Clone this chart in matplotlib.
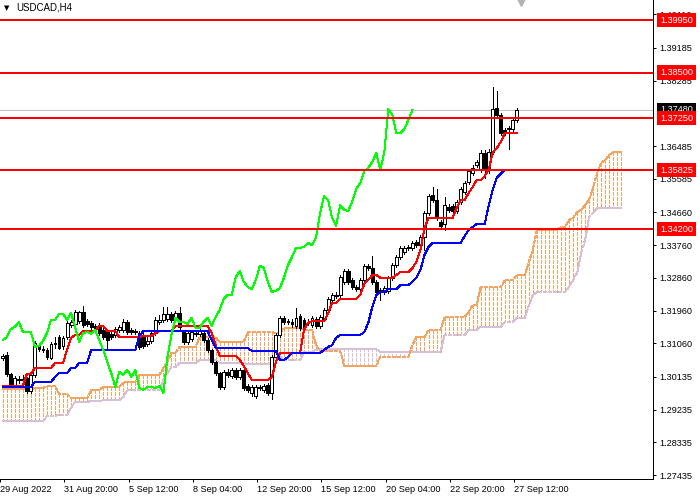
import numpy as np
import matplotlib
matplotlib.use('Agg')
import matplotlib.pyplot as plt

plt.rcParams['font.family'] = ['Liberation Sans', 'DejaVu Sans']
plt.rcParams['lines.antialiased'] = False
plt.rcParams['patch.antialiased'] = False

# USDCAD H4, values
opens = [
    1.3066, 1.3074, 1.3022, 1.2991, 1.3008, 1.3005, 1.3011, 1.2975, 1.3019, 1.3099,
    1.3090, 1.3088, 1.3066, 1.3104, 1.3123, 1.3099, 1.3123, 1.3156, 1.3159, 1.3167,
    1.3192, 1.3167, 1.3162, 1.3154, 1.3156, 1.3143, 1.3137, 1.3132, 1.3129, 1.3143,
    1.3143, 1.3165, 1.3143, 1.3140, 1.3134, 1.3126, 1.3104, 1.3112, 1.3134, 1.3165,
    1.3170, 1.3173, 1.3187, 1.3170, 1.3189, 1.3137, 1.3110, 1.3118, 1.3134, 1.3132,
    1.3134, 1.3115, 1.3088, 1.3055, 1.3024, 1.2986, 1.3027, 1.3016, 1.3033, 1.3013,
    1.3033, 1.2989, 1.2969, 1.2961, 1.2986, 1.2978, 1.2991, 1.2969, 1.3068, 1.3129,
    1.3176, 1.3167, 1.3165, 1.3154, 1.3181, 1.3170, 1.3162, 1.3156, 1.3173, 1.3154,
    1.3173, 1.3198, 1.3225, 1.3236, 1.3239, 1.3275, 1.3305, 1.3280, 1.3261, 1.3255,
    1.3280, 1.3319, 1.3313, 1.3275, 1.3253, 1.3247, 1.3250, 1.3286, 1.3321, 1.3343,
    1.3357, 1.3368, 1.3368, 1.3385, 1.3376, 1.3398, 1.3464, 1.3514, 1.3500, 1.3440,
    1.3434, 1.3481, 1.3484, 1.3470, 1.3495, 1.3522, 1.3550, 1.3574, 1.3596, 1.3583,
    1.3629, 1.3583, 1.3632, 1.3753, 1.3734, 1.3693, 1.3698, 1.3695, 1.3720,
]
highs = [
    1.3077, 1.3082, 1.3024, 1.3016, 1.3016, 1.3019, 1.3013, 1.3022, 1.3112, 1.3104,
    1.3099, 1.3093, 1.3110, 1.3123, 1.3129, 1.3126, 1.3167, 1.3170, 1.3198, 1.3195,
    1.3209, 1.3173, 1.3167, 1.3159, 1.3162, 1.3148, 1.3143, 1.3137, 1.3151, 1.3156,
    1.3173, 1.3170, 1.3148, 1.3145, 1.3140, 1.3134, 1.3126, 1.3140, 1.3178, 1.3184,
    1.3206, 1.3206, 1.3192, 1.3195, 1.3206, 1.3143, 1.3140, 1.3143, 1.3140, 1.3154,
    1.3140, 1.3121, 1.3090, 1.3058, 1.3027, 1.3033, 1.3035, 1.3038, 1.3038, 1.3038,
    1.3038, 1.2994, 1.2991, 1.2991, 1.2991, 1.2994, 1.2997, 1.3074, 1.3134, 1.3181,
    1.3181, 1.3173, 1.3173, 1.3203, 1.3187, 1.3176, 1.3173, 1.3181, 1.3178, 1.3184,
    1.3203, 1.3233, 1.3244, 1.3247, 1.3294, 1.3310, 1.3310, 1.3286, 1.3266, 1.3286,
    1.3324, 1.3324, 1.3346, 1.3280, 1.3258, 1.3264, 1.3291, 1.3327, 1.3349, 1.3374,
    1.3374, 1.3376, 1.3387, 1.3390, 1.3404, 1.3470, 1.3517, 1.3536, 1.3530, 1.3445,
    1.3508, 1.3489, 1.3489, 1.3500, 1.3536, 1.3552, 1.3585, 1.3596, 1.3610, 1.3638,
    1.3638, 1.3640, 1.3811, 1.3800, 1.3739, 1.3698, 1.3704, 1.3726, 1.3753,
]
lows = [
    1.3060, 1.3016, 1.2986, 1.2986, 1.2997, 1.2997, 1.2969, 1.2969, 1.3013, 1.3085,
    1.3082, 1.3063, 1.3063, 1.3093, 1.3090, 1.3090, 1.3118, 1.3151, 1.3154, 1.3162,
    1.3151, 1.3154, 1.3145, 1.3140, 1.3129, 1.3118, 1.3088, 1.3118, 1.3123, 1.3137,
    1.3137, 1.3132, 1.3132, 1.3132, 1.3090, 1.3093, 1.3099, 1.3107, 1.3129, 1.3159,
    1.3165, 1.3167, 1.3165, 1.3165, 1.3145, 1.3104, 1.3104, 1.3112, 1.3126, 1.3126,
    1.3110, 1.3082, 1.3049, 1.3019, 1.2980, 1.2980, 1.3013, 1.3011, 1.3008, 1.3008,
    1.2978, 1.2972, 1.2961, 1.2956, 1.2978, 1.2972, 1.2964, 1.2953, 1.3063, 1.3123,
    1.3159, 1.3159, 1.3151, 1.3148, 1.3143, 1.3143, 1.3156, 1.3151, 1.3148, 1.3148,
    1.3167, 1.3192, 1.3220, 1.3231, 1.3233, 1.3269, 1.3269, 1.3255, 1.3250, 1.3250,
    1.3275, 1.3308, 1.3269, 1.3242, 1.3225, 1.3242, 1.3244, 1.3280, 1.3316, 1.3338,
    1.3352, 1.3363, 1.3363, 1.3371, 1.3371, 1.3363, 1.3459, 1.3495, 1.3445, 1.3423,
    1.3418, 1.3467, 1.3464, 1.3464, 1.3489, 1.3517, 1.3544, 1.3569, 1.3591, 1.3577,
    1.3561, 1.3574, 1.3627, 1.3728, 1.3679, 1.3679, 1.3640, 1.3690, 1.3715,
]
closes = [
    1.3071, 1.3022, 1.2991, 1.3011, 1.3005, 1.3008, 1.2975, 1.3019, 1.3107, 1.3090,
    1.3088, 1.3068, 1.3104, 1.3107, 1.3093, 1.3121, 1.3162, 1.3165, 1.3192, 1.3192,
    1.3156, 1.3159, 1.3151, 1.3145, 1.3134, 1.3123, 1.3115, 1.3123, 1.3145, 1.3151,
    1.3165, 1.3137, 1.3137, 1.3137, 1.3096, 1.3099, 1.3112, 1.3134, 1.3170, 1.3170,
    1.3187, 1.3187, 1.3170, 1.3189, 1.3151, 1.3110, 1.3134, 1.3137, 1.3132, 1.3143,
    1.3115, 1.3088, 1.3055, 1.3024, 1.2986, 1.3027, 1.3019, 1.3033, 1.3013, 1.3033,
    1.2983, 1.2978, 1.2986, 1.2986, 1.2983, 1.2989, 1.2969, 1.3068, 1.3129, 1.3176,
    1.3165, 1.3165, 1.3159, 1.3176, 1.3148, 1.3148, 1.3165, 1.3176, 1.3154, 1.3178,
    1.3198, 1.3228, 1.3239, 1.3239, 1.3288, 1.3305, 1.3275, 1.3261, 1.3255, 1.3280,
    1.3319, 1.3313, 1.3275, 1.3247, 1.3250, 1.3258, 1.3286, 1.3321, 1.3343, 1.3368,
    1.3368, 1.3371, 1.3382, 1.3376, 1.3398, 1.3464, 1.3511, 1.3500, 1.3451, 1.3429,
    1.3486, 1.3473, 1.3470, 1.3495, 1.3530, 1.3547, 1.3580, 1.3588, 1.3605, 1.3629,
    1.3583, 1.3632, 1.3750, 1.3734, 1.3684, 1.3684, 1.3695, 1.3720, 1.3748,
]

# Ichimoku lines as drawn (tenkan red, kijun blue)
tenkan = [
    1.2989, 1.2989, 1.2989, 1.2989, 1.2989, 1.2989, 1.3022, 1.3022, 1.3038, 1.3038,
    1.3038, 1.3038, 1.3038, 1.3052, 1.3052, 1.3052, 1.3088, 1.3121, 1.3129, 1.3129,
    1.3140, 1.3140, 1.3140, 1.3140, 1.3154, 1.3154, 1.3140, 1.3140, 1.3140, 1.3123,
    1.3123, 1.3123, 1.3123, 1.3123, 1.3123, 1.3126, 1.3126, 1.3126, 1.3134, 1.3140,
    1.3140, 1.3140, 1.3140, 1.3154, 1.3154, 1.3154, 1.3154, 1.3154, 1.3154, 1.3154,
    1.3154, 1.3154, 1.3134, 1.3101, 1.3071, 1.3071, 1.3071, 1.3071, 1.3071, 1.3060,
    1.3044, 1.3024, 1.3005, 1.3005, 1.3005, 1.3005, 1.3005, 1.3013, 1.3055, 1.3079,
    1.3079, 1.3079, 1.3079, 1.3079, 1.3079, 1.3143, 1.3162, 1.3167, 1.3167, 1.3167,
    1.3167, 1.3189, 1.3217, 1.3217, 1.3228, 1.3228, 1.3228, 1.3228, 1.3228, 1.3239,
    1.3269, 1.3280, 1.3294, 1.3294, 1.3286, 1.3286, 1.3286, 1.3286, 1.3294, 1.3302,
    1.3302, 1.3302, 1.3313, 1.3330, 1.3363, 1.3423, 1.3451, 1.3451, 1.3451, 1.3451,
    1.3451, 1.3451, 1.3451, 1.3478, 1.3500, 1.3500, 1.3519, 1.3536, 1.3555, 1.3555,
    1.3566, 1.3583, 1.3632, 1.3643, 1.3660, 1.3684, 1.3684, 1.3684, 1.3684,
]
kijun = [
    1.2986, 1.2986, 1.2986, 1.2986, 1.2986, 1.2986, 1.2986, 1.2986, 1.3000, 1.3000,
    1.3000, 1.3000, 1.3000, 1.3013, 1.3024, 1.3024, 1.3024, 1.3038, 1.3038, 1.3052,
    1.3052, 1.3052, 1.3088, 1.3088, 1.3088, 1.3088, 1.3088, 1.3088, 1.3088, 1.3088,
    1.3088, 1.3088, 1.3088, 1.3088, 1.3126, 1.3140, 1.3140, 1.3140, 1.3140, 1.3140,
    1.3140, 1.3140, 1.3140, 1.3140, 1.3140, 1.3140, 1.3140, 1.3140, 1.3140, 1.3140,
    1.3140, 1.3140, 1.3115, 1.3093, 1.3093, 1.3093, 1.3093, 1.3093, 1.3093, 1.3093,
    1.3093, 1.3093, 1.3085, 1.3085, 1.3085, 1.3085, 1.3085, 1.3085, 1.3085, 1.3060,
    1.3060, 1.3068, 1.3079, 1.3079, 1.3079, 1.3079, 1.3079, 1.3079, 1.3079, 1.3079,
    1.3088, 1.3096, 1.3101, 1.3121, 1.3129, 1.3129, 1.3129, 1.3129, 1.3129, 1.3129,
    1.3137, 1.3162, 1.3206, 1.3239, 1.3247, 1.3247, 1.3255, 1.3255, 1.3255, 1.3266,
    1.3266, 1.3266, 1.3275, 1.3286, 1.3308, 1.3349, 1.3371, 1.3382, 1.3382, 1.3382,
    1.3382, 1.3382, 1.3382, 1.3382, 1.3382, 1.3401, 1.3418, 1.3426, 1.3434, 1.3434,
    1.3434, 1.3486, 1.3528, 1.3561, 1.3572, 1.3583, 1.3583, 1.3583, 1.3583,
]
# senkou spans, already shifted 26 bars ahead
span_a = [
    1.2980, 1.2980, 1.2980, 1.2980, 1.2980, 1.2980, 1.2980, 1.2980, 1.2983, 1.2983,
    1.2983, 1.2989, 1.2989, 1.2989, 1.2967, 1.2967, 1.2967, 1.2956, 1.2956, 1.2956,
    1.2956, 1.2956, 1.2978, 1.2978, 1.2978, 1.2986, 1.2986, 1.2986, 1.2986, 1.2986,
    1.2997, 1.3000, 1.3000, 1.3000, 1.3019, 1.3019, 1.3019, 1.3019, 1.3019, 1.3019,
    1.3038, 1.3055, 1.3079, 1.3079, 1.3096, 1.3096, 1.3096, 1.3096, 1.3096, 1.3123,
    1.3123, 1.3123, 1.3123, 1.3123, 1.3110, 1.3110, 1.3110, 1.3110, 1.3110, 1.3110,
    1.3110, 1.3137, 1.3137, 1.3137, 1.3137, 1.3137, 1.3137, 1.3137, 1.3134, 1.3134,
    1.3148, 1.3148, 1.3148, 1.3148, 1.3148, 1.3143, 1.3143, 1.3143, 1.3101, 1.3085,
    1.3085, 1.3085, 1.3085, 1.3085, 1.3085, 1.3044, 1.3044, 1.3044, 1.3044, 1.3044,
    1.3044, 1.3044, 1.3044, 1.3044, 1.3068, 1.3068, 1.3068, 1.3068, 1.3068, 1.3068,
    1.3068, 1.3068, 1.3101, 1.3123, 1.3123, 1.3123, 1.3143, 1.3143, 1.3143, 1.3143,
    1.3178, 1.3178, 1.3178, 1.3178, 1.3178, 1.3178, 1.3192, 1.3211, 1.3211, 1.3261,
    1.3261, 1.3261, 1.3261, 1.3261, 1.3261, 1.3280, 1.3280, 1.3280, 1.3294, 1.3294,
    1.3294, 1.3330, 1.3363, 1.3418, 1.3418, 1.3418, 1.3418, 1.3418, 1.3418, 1.3426,
    1.3426, 1.3445, 1.3451, 1.3467, 1.3473, 1.3486, 1.3500, 1.3536, 1.3574, 1.3602,
    1.3610, 1.3624, 1.3632, 1.3632, 1.3632,
]
span_b = [
    1.2892, 1.2892, 1.2892, 1.2892, 1.2892, 1.2892, 1.2892, 1.2892, 1.2892, 1.2892,
    1.2892, 1.2906, 1.2906, 1.2906, 1.2909, 1.2909, 1.2909, 1.2928, 1.2945, 1.2945,
    1.2945, 1.2945, 1.2947, 1.2947, 1.2947, 1.2950, 1.2950, 1.2950, 1.2950, 1.2950,
    1.2958, 1.2978, 1.2978, 1.2978, 1.2978, 1.2978, 1.2978, 1.2978, 1.2978, 1.2978,
    1.3005, 1.3024, 1.3041, 1.3041, 1.3052, 1.3052, 1.3052, 1.3052, 1.3052, 1.3060,
    1.3060, 1.3060, 1.3060, 1.3060, 1.3052, 1.3052, 1.3052, 1.3052, 1.3052, 1.3052,
    1.3052, 1.3049, 1.3049, 1.3049, 1.3049, 1.3049, 1.3049, 1.3049, 1.3071, 1.3071,
    1.3060, 1.3060, 1.3060, 1.3060, 1.3060, 1.3082, 1.3082, 1.3082, 1.3088, 1.3090,
    1.3090, 1.3090, 1.3090, 1.3090, 1.3090, 1.3090, 1.3090, 1.3090, 1.3090, 1.3090,
    1.3090, 1.3090, 1.3090, 1.3090, 1.3082, 1.3082, 1.3082, 1.3082, 1.3082, 1.3082,
    1.3082, 1.3082, 1.3082, 1.3082, 1.3082, 1.3082, 1.3082, 1.3082, 1.3082, 1.3082,
    1.3129, 1.3129, 1.3129, 1.3129, 1.3129, 1.3129, 1.3143, 1.3143, 1.3143, 1.3151,
    1.3151, 1.3151, 1.3151, 1.3151, 1.3151, 1.3165, 1.3165, 1.3165, 1.3176, 1.3176,
    1.3176, 1.3211, 1.3239, 1.3247, 1.3247, 1.3247, 1.3247, 1.3247, 1.3247, 1.3247,
    1.3247, 1.3261, 1.3280, 1.3299, 1.3354, 1.3390, 1.3453, 1.3464, 1.3478, 1.3478,
    1.3478, 1.3478, 1.3478, 1.3478, 1.3478,
]

levels = [1.39950, 1.38500, 1.37250, 1.35825, 1.34200]
bid = 1.37480
ytick_vals = [1.40110, 1.39185, 1.38285, 1.36485, 1.35585, 1.34660, 1.33760,
              1.32860, 1.31960, 1.31060, 1.30135, 1.29235, 1.28335, 1.27435]
date_labels = ['29 Aug 2022', '31 Aug 20:00', '5 Sep 12:00', '8 Sep 04:00',
               '12 Sep 20:00', '15 Sep 12:00', '20 Sep 04:00', '22 Sep 20:00',
               '27 Sep 12:00']
chikou_shift = 26

SANDY = '#F4A460'
THISTLE = '#D8BFD8'

o = np.array(opens)
h = np.array(highs)
l = np.array(lows)
c = np.array(closes)
idx = np.arange(len(c))

fig = plt.figure(figsize=(7, 5), dpi=100)
ax = fig.add_axes([0, 21 / 500, 653 / 700, 479 / 500])
ax.set_xlim(-0.67, 161.9)
ax.set_ylim(1.27328, 1.4050)

# kumo: dotted vertical hatch, sandybrown when A above B, thistle otherwise
sa = np.array(span_a)
sb = np.array(span_b)
dot = (0, (3, 2))
for i in range(len(sa)):
    col = SANDY if sa[i] >= sb[i] else THISTLE
    ax.plot([i, i], [sa[i], sb[i]], color=col, ls=dot, lw=0.72, zorder=1)
ci = np.arange(len(sa))
ax.plot(ci, sb, color=THISTLE, ls=dot, lw=0.72, zorder=1.5)
ax.plot(ci, sa, color=SANDY, ls=dot, lw=0.72, zorder=1.5)

ax.axhline(bid, color='#C0C0C0', lw=0.7, zorder=2)

# candles
bull = c >= o
ax.vlines(idx, l, h, color='black', lw=0.72, zorder=3)
ax.bar(idx, np.abs(c - o), bottom=np.minimum(o, c), width=0.72,
       color=np.where(bull, 'white', 'black'), edgecolor='black',
       linewidth=0.72, zorder=4)

ax.plot(np.arange(len(tenkan)), tenkan, color='#FF0000', lw=0.72, zorder=5)
ax.plot(np.arange(len(kijun)), kijun, color='#0000FF', lw=0.72, zorder=5)
chikou = c[chikou_shift:]
ax.plot(np.arange(len(chikou)), chikou, color='#00FF00', lw=0.72, zorder=5)

for lv in levels:
    ax.axhline(lv, color='#FF0000', lw=1.4, zorder=6)

# price labels on the scale
trans = ax.get_yaxis_transform()
ax.text(660 / 653, bid, f'{bid:.5f}', transform=trans, color='white',
        fontsize=6.6, va='center', ha='left', clip_on=False, zorder=10,
        bbox=dict(boxstyle='square,pad=0.3', fc='black', ec='none'))
for lv in levels:
    ax.text(660 / 653, lv, f'{lv:.5f}', transform=trans, color='white',
            fontsize=6.6, va='center', ha='left', clip_on=False, zorder=11,
            bbox=dict(boxstyle='square,pad=0.3', fc='#FF0000', ec='none'))

ax.plot([len(c)], [1.4050], marker='v', color='#B4B4B4', ms=8,
        clip_on=False, zorder=12)

ax.yaxis.tick_right()
ax.set_yticks(ytick_vals)
ax.set_yticklabels([f'{v:.5f}' for v in ytick_vals])
ax.tick_params(axis='y', length=2.2, width=0.72, pad=2.5, labelsize=6.6,
               direction='out', colors='black')

ax.set_xticks(np.arange(len(date_labels)) * 16 - 0.7)
ax.set_xticklabels(date_labels, ha='left')
ax.tick_params(axis='x', length=2.2, width=0.72, pad=1.8, labelsize=6.6,
               direction='out')

for side in ['top', 'left']:
    ax.spines[side].set_visible(False)
for side in ['right', 'bottom']:
    ax.spines[side].set_linewidth(0.72)
    ax.spines[side].set_color('black')

fig.text(4 / 700, 1 - 8 / 500, '\u25bc', fontsize=5, va='center',
         family='DejaVu Sans')
fig.text(16 / 700, 1 - 8 / 500, 'USDCAD,H4', fontsize=7, va='center')

fig.savefig('out.png', dpi=100)
